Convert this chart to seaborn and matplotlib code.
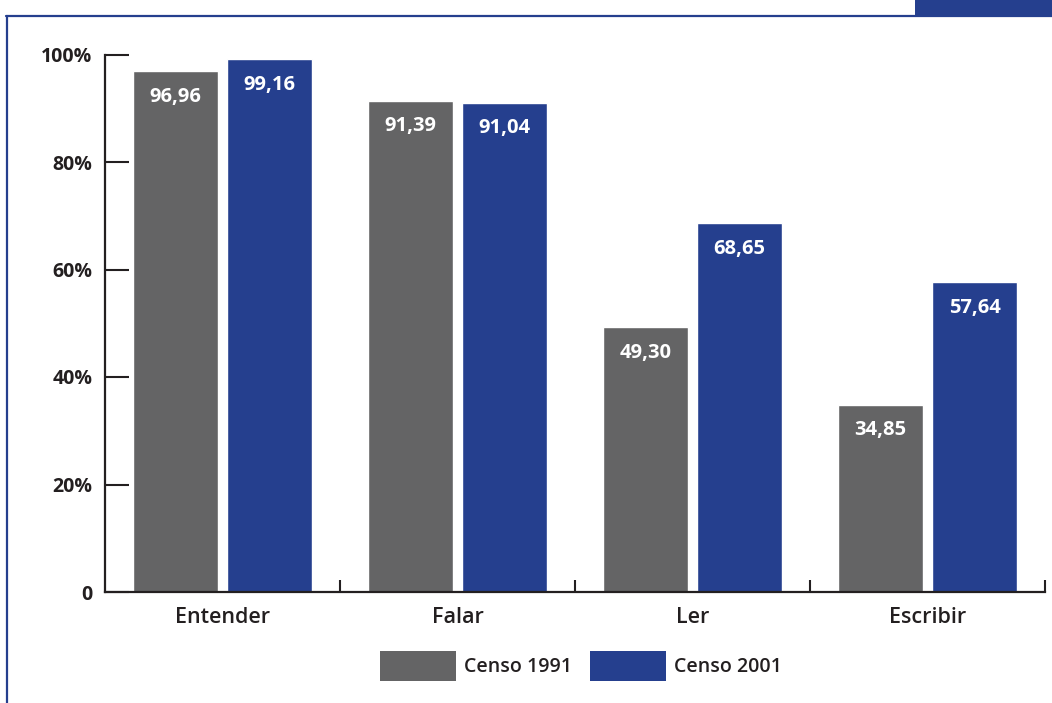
import matplotlib
matplotlib.use("Agg")
import matplotlib.pyplot as plt
from matplotlib.patches import Rectangle, Patch
from matplotlib.lines import Line2D
from matplotlib.ticker import FixedLocator
import seaborn as sns
import pandas as pd

# Data
skills = ["Entender", "Falar", "Ler", "Escribir"]
censo_1991 = [96.96, 91.39, 49.30, 34.85]
censo_2001 = [99.16, 91.04, 68.65, 57.64]
series_names = ["Censo 1991", "Censo 2001"]
y_ticks = [0, 20, 40, 60, 80, 100]
y_tick_labels = ["0", "20%", "40%", "60%", "80%", "100%"]

GRAY = "#646465"
BLUE = "#253F8E"
INK = "#231F20"

df = pd.DataFrame({
    "skill": skills * 2,
    "value": censo_1991 + censo_2001,
    "series": [series_names[0]] * len(skills) + [series_names[1]] * len(skills),
})

sns.set_theme(style="white")
plt.rcParams["font.family"] = ["Open Sans", "DejaVu Sans"]

fig = plt.figure(figsize=(10.52, 7.03), dpi=100)
ax = fig.add_axes([105 / 1052, 1 - 592 / 703, (1045 - 105) / 1052, (592 - 54.5) / 703])

sns.barplot(data=df, x="skill", y="value", hue="series", order=skills,
            hue_order=series_names, palette=[GRAY, BLUE], width=0.8, gap=0.095,
            saturation=1, ax=ax, legend=False)

ax.set_xlim(-0.5, len(skills) - 0.5)
ax.set_ylim(0, 100)
ax.set_xlabel("")
ax.set_ylabel("")

# Value labels inside the bars
for cont, vals in zip(ax.containers, [censo_1991, censo_2001]):
    labels = [f"{v:.2f}".replace(".", ",") for v in vals]
    for bar, lab in zip(cont, labels):
        ax.annotate(lab, (bar.get_x() + bar.get_width() / 2, bar.get_height()),
                    xytext=(0, -18.5), textcoords="offset points",
                    ha="center", va="center", color="white",
                    fontsize=14.5, fontweight="bold")

# Spines and ticks
for s in ["top", "right"]:
    ax.spines[s].set_visible(False)
for s in ["left", "bottom"]:
    ax.spines[s].set_color(INK)
    ax.spines[s].set_linewidth(1.6)

ax.set_yticks(y_ticks)
ax.set_yticklabels(y_tick_labels)
ax.tick_params(axis="y", direction="in", length=17, width=1.5, color=INK,
               pad=9, labelsize=14, labelcolor=INK, left=True)
for t in ax.get_yticklabels():
    t.set_fontweight("bold")

ax.tick_params(axis="x", which="major", length=0, pad=11, labelsize=15.5,
               labelcolor=INK)
for t in ax.get_xticklabels():
    t.set_fontweight(600)
ax.xaxis.set_minor_locator(FixedLocator([i + 0.5 for i in range(len(skills))]))
ax.tick_params(axis="x", which="minor", direction="in", length=9, width=1.5,
               color=INK, bottom=True)

# Legend
handles = [Patch(facecolor=GRAY, edgecolor="none"), Patch(facecolor=BLUE, edgecolor="none")]
leg = fig.legend(handles, series_names, loc="center", bbox_to_anchor=(581 / 1052, 1 - 666 / 703),
                 ncol=2, frameon=False, fontsize=14, handlelength=3.9, handleheight=1.95,
                 handletextpad=0.45, columnspacing=0.9)
for t in leg.get_texts():
    t.set_color(INK)
    t.set_fontweight(600)

# Page frame
fig.add_artist(Line2D([6.5 / 1052, 6.5 / 1052], [0, 1 - 15.5 / 703], color=BLUE, lw=1.6))
fig.add_artist(Line2D([6 / 1052, 1], [1 - 15.5 / 703, 1 - 15.5 / 703], color=BLUE, lw=1.6))
fig.add_artist(Rectangle((915 / 1052, 1 - 16 / 703), 1 - 915 / 1052, 16 / 703,
                         transform=fig.transFigure, facecolor=BLUE, edgecolor="none"))

fig.savefig("out.png", dpi=100)
